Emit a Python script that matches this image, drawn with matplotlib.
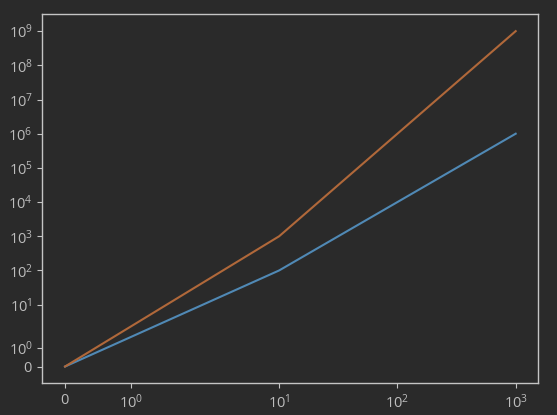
import matplotlib
matplotlib.use("Agg")
import matplotlib.pyplot as plt

# x values and the two series (x**2 and x**3)
X = [0, 10, 100, 1000]
Y_SQUARE = [0, 100, 10000, 1000000]
Y_CUBE = [0, 1000, 1000000, 1000000000]

BG = "#2a2a2a"
FG = "#c4c4c4"
TXT = "#bdbdbd"

plt.rcParams["font.family"] = ["Open Sans", "DejaVu Sans"]

fig = plt.figure(figsize=(5.57, 4.15), dpi=100, facecolor=BG)
ax = fig.add_axes([0.0763, 0.0764, 0.890, 0.889], facecolor=BG)

ax.plot(X, Y_SQUARE, color="#5089b5", lw=1.5)
ax.plot(X, Y_CUBE, color="#b0683a", lw=1.5)

ax.set_xscale("symlog")
ax.set_yscale("symlog")

for s in ax.spines.values():
    s.set_color(FG)
    s.set_linewidth(1.0)
ax.tick_params(colors=FG, labelcolor=TXT, labelsize=10.5)
ax.minorticks_off()

fig.savefig("out.png", dpi=100, facecolor=BG)
